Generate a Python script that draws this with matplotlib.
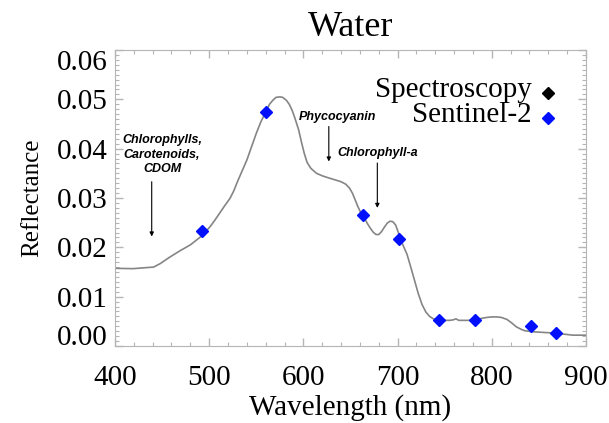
import numpy as np
import matplotlib.pyplot as plt
from matplotlib.ticker import MultipleLocator
from matplotlib.transforms import ScaledTranslation

# water reflectance spectrum (nm, reflectance)
spec_wl = [400, 419, 441, 448, 458, 469, 480, 490, 495, 501, 506, 511, 516, 522,
           526, 530, 535, 540, 545, 550, 555, 560, 564, 568, 571, 575, 578, 582,
           585, 588, 591, 595, 598, 601, 604, 608, 614, 620, 628, 635, 640, 645,
           649, 652, 655, 658, 661, 665, 668, 671, 674, 677, 680, 683, 686, 689,
           692, 695, 698, 701, 704, 710, 714, 718, 722, 726, 730, 734, 738, 744,
           750, 755, 759, 762, 765, 775, 782, 789, 795, 800, 805, 810, 816, 821,
           826, 831, 835, 843, 851, 860, 868, 877, 886, 900]
spec_refl = [0.01575, 0.01568, 0.0160, 0.0167, 0.0180, 0.0193, 0.0205, 0.0220,
             0.0229, 0.0242, 0.0255, 0.0269, 0.0283, 0.0299, 0.0314, 0.0333,
             0.0355, 0.0377, 0.0404, 0.0431, 0.0455, 0.0474, 0.0490, 0.0499,
             0.0504, 0.0505, 0.0504, 0.0498, 0.0490, 0.0478, 0.0462, 0.0438,
             0.0413, 0.0390, 0.0372, 0.0360, 0.0350, 0.0345, 0.0340, 0.0336,
             0.0333, 0.0328, 0.0320, 0.0310, 0.0296, 0.0282, 0.0270, 0.0259,
             0.0248, 0.0239, 0.0231, 0.0226, 0.0226, 0.0232, 0.0241, 0.0249,
             0.0253, 0.0252, 0.0245, 0.0229, 0.0212, 0.0186, 0.0160, 0.0133,
             0.0106, 0.0084, 0.0069, 0.0060, 0.0055, 0.0052, 0.0052, 0.0052,
             0.0053, 0.0055, 0.0052, 0.0052, 0.0053, 0.0056, 0.0058, 0.0059,
             0.0059, 0.0058, 0.0054, 0.0047, 0.0039, 0.0034, 0.0031, 0.0029,
             0.0028, 0.0027, 0.0026, 0.0024, 0.0022, 0.0022]

# Sentinel-2 band values
s2_wl = [492, 560, 663, 702, 744, 782, 842, 868]
s2_refl = [0.0234, 0.0474, 0.0266, 0.0217, 0.0053, 0.0053, 0.0041, 0.0026]

yticks = [0.00, 0.01, 0.02, 0.03, 0.04, 0.05, 0.06]
xticks = [400, 500, 600, 700, 800, 900]

plt.rcParams['font.family'] = 'Liberation Serif'

fig = plt.figure(figsize=(6.09, 4.23), dpi=100)
ax = fig.add_axes([0.1888, 0.182, 0.7734, 0.6998])

ax.plot(spec_wl, spec_refl, color='#858585', lw=1.2)
ax.plot(s2_wl, s2_refl, 'D', color='#0010ff', ms=6.5, ls='none')

ax.set_xlim(400, 900)
ax.set_ylim(0, 0.06)
ax.set_xticks(xticks)
ax.set_yticks(yticks)
ax.set_yticklabels(['%.2f' % v for v in yticks])
ax.xaxis.set_minor_locator(MultipleLocator(20))
ax.yaxis.set_minor_locator(MultipleLocator(0.001))
ax.tick_params(which='both', direction='in', top=True, right=True,
               color='#b5b5b5', labelsize=21)
ax.tick_params(which='major', length=6, width=1)
ax.tick_params(which='minor', length=3, width=0.8)
ax.tick_params(axis='x', pad=14)
ax.tick_params(axis='y', pad=5)
for s in ax.spines.values():
    s.set_color('#b5b5b5')

# end labels sit inside the axis range
ylabs = ax.get_yticklabels()
ylabs[0].set_transform(ylabs[0].get_transform() +
                       ScaledTranslation(0, 8 / 72, fig.dpi_scale_trans))
ylabs[-1].set_transform(ylabs[-1].get_transform() +
                        ScaledTranslation(0, -7 / 72, fig.dpi_scale_trans))

ax.set_title('Water', fontsize=26, pad=10)
ax.set_xlabel('Wavelength (nm)', fontsize=21, labelpad=2)
ax.set_ylabel('Reflectance', fontsize=18, labelpad=10)

# legend drawn by hand
ax.text(0.885, 0.865, 'Spectroscopy', transform=ax.transAxes, fontsize=21,
        ha='right', va='center')
ax.text(0.885, 0.78, 'Sentinel-2', transform=ax.transAxes, fontsize=21,
        ha='right', va='center')
ax.plot([0.92], [0.855], 'D', color='black', ms=6, transform=ax.transAxes,
        clip_on=False)
ax.plot([0.92], [0.77], 'D', color='#0010ff', ms=6, transform=ax.transAxes,
        clip_on=False)

# absorption features
note = dict(fontsize=9, fontweight='bold', fontstyle='italic',
            family='Liberation Sans', ha='center', va='center')
arrow = dict(arrowstyle='-|>', lw=0.8, color='black', mutation_scale=6,
             shrinkA=0, shrinkB=0)
ax.text(450, 0.0388, 'Chlorophylls,\nCarotenoids,\nCDOM', linespacing=1.3, **note)
ax.annotate('', xy=(439, 0.0222), xytext=(439, 0.0333), arrowprops=arrow)
ax.text(636, 0.0465, 'Phycocyanin', **note)
ax.annotate('', xy=(627, 0.0374), xytext=(627, 0.0445), arrowprops=arrow)
ax.text(679, 0.0392, 'Chlorophyll-a', **note)
ax.annotate('', xy=(678.5, 0.0280), xytext=(678.5, 0.0371), arrowprops=arrow)

fig.savefig('out.png', dpi=100)
